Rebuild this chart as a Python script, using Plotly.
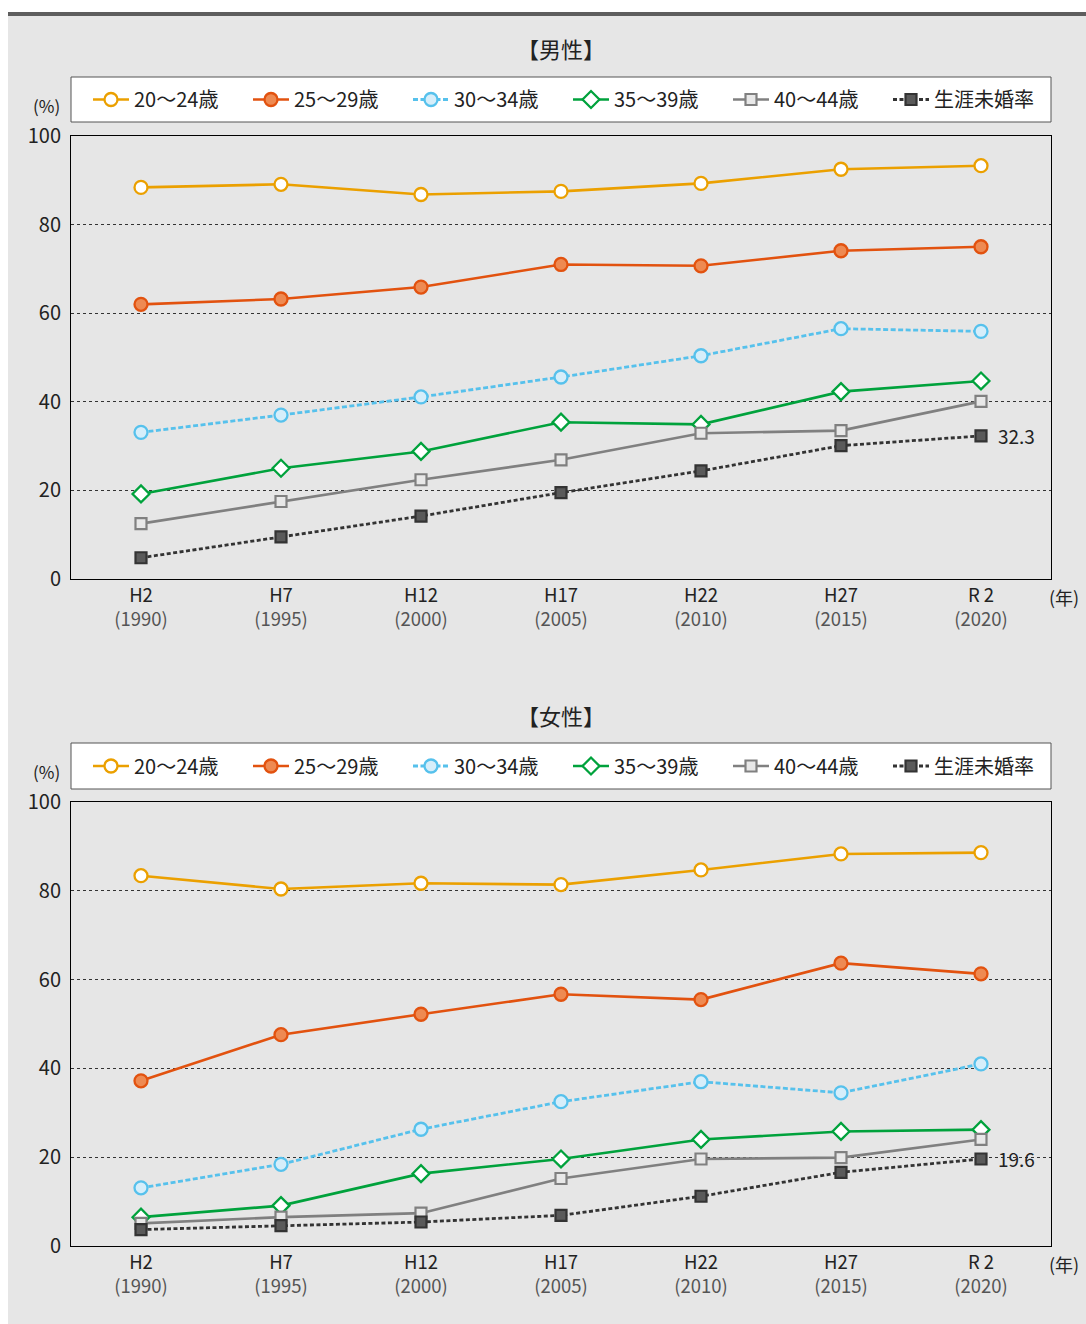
import plotly.graph_objects as go

W, H = 1086, 1324

# --- data -----------------------------------------------------------------
years = ["H2", "H7", "H12", "H17", "H22", "H27", "R 2"]
western = ["1990", "1995", "2000", "2005", "2010", "2015", "2020"]
series_names = ["20～24歳", "25～29歳", "30～34歳", "35～39歳", "40～44歳", "生涯未婚率"]

male_20_24 = [88.4, 89.1, 86.8, 87.5, 89.3, 92.5, 93.3]
male_25_29 = [62.0, 63.2, 65.9, 71.0, 70.7, 74.1, 75.0]
male_30_34 = [33.1, 37.0, 41.1, 45.6, 50.4, 56.5, 55.9]
male_35_39 = [19.2, 25.0, 28.8, 35.4, 34.9, 42.3, 44.7]
male_40_44 = [12.5, 17.5, 22.4, 26.9, 32.9, 33.5, 40.1]
male_lifetime = [4.8, 9.5, 14.2, 19.5, 24.4, 30.1, 32.3]

female_20_24 = [83.4, 80.4, 81.7, 81.4, 84.7, 88.3, 88.6]
female_25_29 = [37.2, 47.6, 52.2, 56.7, 55.5, 63.7, 61.3]
female_30_34 = [13.1, 18.4, 26.3, 32.5, 37.0, 34.5, 41.0]
female_35_39 = [6.5, 9.1, 16.3, 19.6, 24.0, 25.8, 26.2]
female_40_44 = [5.1, 6.5, 7.4, 15.2, 19.6, 19.9, 24.0]
female_lifetime = [3.7, 4.6, 5.4, 6.9, 11.2, 16.6, 19.6]

male = [male_20_24, male_25_29, male_30_34, male_35_39, male_40_44, male_lifetime]
female = [female_20_24, female_25_29, female_30_34, female_35_39, female_40_44, female_lifetime]

FONT = "Noto Sans CJK JP"

# line / marker styles per series
styles = [
    dict(line=dict(color="#EBA000", width=2.6),
         marker=dict(symbol="circle", size=13, color="#FFFFFF", line=dict(color="#EBA000", width=2.3))),
    dict(line=dict(color="#E2520F", width=2.6),
         marker=dict(symbol="circle", size=13, color="#EE8A52", line=dict(color="#E2520F", width=2.3))),
    dict(line=dict(color="#56C1EC", width=2.8, dash="5px,2.5px"),
         marker=dict(symbol="circle", size=13, color="#D6EEFA", line=dict(color="#56C1EC", width=2.3))),
    dict(line=dict(color="#00A23C", width=2.6),
         marker=dict(symbol="diamond", size=13, color="#FFFFFF", line=dict(color="#00A23C", width=2.3))),
    dict(line=dict(color="#808080", width=2.6),
         marker=dict(symbol="square", size=11, color="#E8E8E8", line=dict(color="#808080", width=2.2))),
    dict(line=dict(color="#333333", width=2.8, dash="4px,2.5px"),
         marker=dict(symbol="square", size=11, color="#5A5A5A", line=dict(color="#333333", width=2.2))),
]


def px_x(x):
    return x / W


def px_y(y):
    return 1 - y / H


fig = go.Figure()

panels = [
    dict(data=male, xa="x", ya="y", legend="legend", title="【男性】",
         top=136, bottom=579, title_y=48, legend_top=77, legend_bottom=122, last=male_lifetime[-1]),
    dict(data=female, xa="x2", ya="y2", legend="legend2", title="【女性】",
         top=802, bottom=1246, title_y=715, legend_top=743, legend_bottom=789, last=female_lifetime[-1]),
]

for p in panels:
    for name, vals, st in zip(series_names, p["data"], styles):
        fig.add_trace(go.Scatter(
            x=years, y=vals, name=name, mode="lines+markers",
            xaxis=p["xa"], yaxis=p["ya"], legend=p["legend"],
            line=st["line"], marker=st["marker"], hoverinfo="skip",
        ))

plot_left, plot_right = 71, 1051

shapes = [
    # grey panel and the dark rule on top of it
    dict(type="rect", xref="paper", yref="paper", x0=px_x(8), x1=1, y0=0, y1=px_y(16),
         fillcolor="#E6E6E6", line=dict(width=0), layer="below"),
    dict(type="rect", xref="paper", yref="paper", x0=px_x(8), x1=1, y0=px_y(16), y1=px_y(12),
         fillcolor="#5E5E5E", line=dict(width=0), layer="below"),
]
annotations = []

tick_text = [f"{y}<br><span style='color:#555555'>({w})</span>" for y, w in zip(years, western)]

layout_axes = {}
for i, p in enumerate(panels):
    sfx = "" if i == 0 else str(i + 1)
    layout_axes["xaxis" + sfx] = dict(
        domain=[px_x(plot_left), px_x(plot_right)], anchor="y" + sfx,
        type="category", categoryorder="array", categoryarray=years,
        range=[-0.5, len(years) - 0.5], automargin=False,
        tickmode="array", tickvals=years, ticktext=tick_text,
        showgrid=False, zeroline=False, showline=True, mirror=True,
        linecolor="#000000", linewidth=1, ticks="", ticklabelstandoff=0,
        tickfont=dict(family=FONT, size=18.5, color="#222222"),
    )
    layout_axes["yaxis" + sfx] = dict(
        domain=[px_y(p["bottom"]), px_y(p["top"])], anchor="x" + sfx,
        range=[0, 100], tickmode="array", tickvals=[0, 20, 40, 60, 80, 100],
        automargin=False,
        showgrid=True, gridcolor="#333333", griddash="dot", gridwidth=1,
        zeroline=False, showline=True, mirror=True, linecolor="#000000", linewidth=1,
        ticks="", ticklabelstandoff=5,
        tickfont=dict(family=FONT, size=20, color="#222222"),
    )
    # legend frame
    shapes.append(dict(type="rect", xref="paper", yref="paper",
                       x0=px_x(plot_left), x1=px_x(plot_right),
                       y0=px_y(p["legend_bottom"]), y1=px_y(p["legend_top"]),
                       fillcolor="#FFFFFF", line=dict(color="#555555", width=1), layer="below"))
    # panel title
    annotations.append(dict(xref="paper", yref="paper", x=px_x(561), y=px_y(p["title_y"]),
                            text=p["title"], showarrow=False, xanchor="center", yanchor="middle",
                            font=dict(family=FONT, size=22, color="#222222")))
    # unit labels
    annotations.append(dict(xref="paper", yref="paper", x=px_x(46), y=px_y(p["top"] - 31),
                            text="(%)", showarrow=False, xanchor="center", yanchor="middle",
                            font=dict(family=FONT, size=17, color="#222222")))
    annotations.append(dict(xref="paper", yref="paper", x=px_x(1064), y=px_y(p["bottom"] + 18),
                            text="(年)", showarrow=False, xanchor="center", yanchor="middle",
                            font=dict(family=FONT, size=18, color="#222222")))
    # value label for the lifetime unmarried rate in the latest year
    annotations.append(dict(xref="x" + sfx, yref="y" + sfx, x=years[-1], y=p["last"],
                            text=f"{p['last']:.1f}", showarrow=False, xanchor="left", yanchor="middle",
                            xshift=15, font=dict(family=FONT, size=19, color="#222222")))

legend_common = dict(
    orientation="h", xanchor="left", yanchor="middle",
    bgcolor="rgba(0,0,0,0)", borderwidth=0,
    font=dict(family=FONT, size=20, color="#222222"),
    itemwidth=36, entrywidth=109, entrywidthmode="pixels",
    itemclick=False, itemdoubleclick=False, tracegroupgap=0,
)

fig.update_layout(
    width=W, height=H, margin=dict(l=0, r=0, t=0, b=0, autoexpand=False),
    paper_bgcolor="#FFFFFF", plot_bgcolor="#FFFFFF",
    font=dict(family=FONT, size=18, color="#222222"),
    showlegend=True,
    legend=dict(x=px_x(88), y=px_y(99.5), **legend_common),
    legend2=dict(x=px_x(88), y=px_y(766), **legend_common),
    shapes=shapes, annotations=annotations,
    **layout_axes,
)

fig.write_html("out.html")
